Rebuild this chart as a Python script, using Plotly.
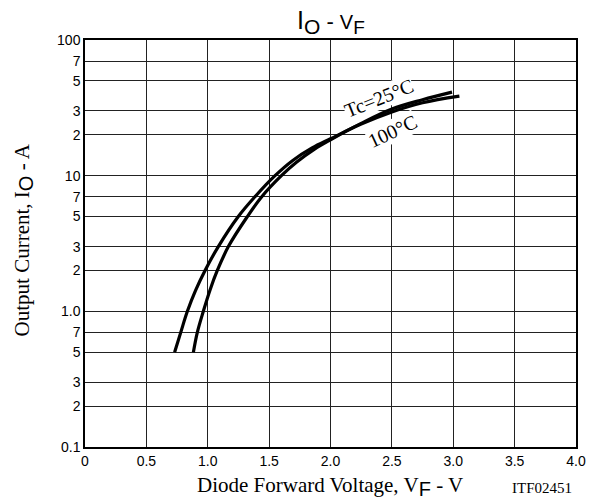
import plotly.graph_objects as go

# Data
vf_25 = [0.883, 0.915, 0.964, 1.02, 1.078, 1.168, 1.323, 1.44, 1.60, 1.725, 1.87, 2.0, 2.25, 2.5, 2.75, 2.99]
io_25 = [0.5, 0.7, 1.0, 1.45, 2.0, 3.0, 5.0, 7.0, 10.0, 12.6, 15.7, 18.4, 24.3, 31.0, 36.3, 41.3]

vf_100 = [0.73, 0.78, 0.834, 0.90, 0.978, 1.086, 1.249, 1.385, 1.548, 1.69, 1.85, 2.0, 2.25, 2.5, 2.75, 3.05]
io_100 = [0.5, 0.7, 1.0, 1.42, 2.0, 3.0, 5.0, 7.0, 10.0, 12.9, 16.0, 18.7, 24.0, 29.5, 34.5, 38.6]

y_tickvals = [0.1, 0.2, 0.3, 0.5, 0.7, 1, 2, 3, 5, 7, 10, 20, 30, 50, 70, 100]
y_ticktext = ["0.1", "2", "3", "5", "7", "1.0", "2", "3", "5", "7", "10", "2", "3", "5", "7", "100"]
x_tickvals = [0, 0.5, 1.0, 1.5, 2.0, 2.5, 3.0, 3.5, 4.0]
x_ticktext = ["0", "0.5", "1.0", "1.5", "2.0", "2.5", "3.0", "3.5", "4.0"]

SANS = "Liberation Sans, Arial, sans-serif"
SERIF = "Liberation Serif, Times New Roman, serif"

fig = go.Figure()
for xs, ys in [(vf_25, io_25), (vf_100, io_100)]:
    fig.add_trace(go.Scatter(x=xs, y=ys, mode="lines",
                             line=dict(color="black", width=3.2, shape="spline", smoothing=1.0),
                             showlegend=False, hoverinfo="skip"))

# page has an 8px body margin: figure sized so that it ends at the window edge
fig.update_layout(
    width=592, height=493,
    margin=dict(l=77, r=24, t=32, b=54),
    paper_bgcolor="white", plot_bgcolor="white",
    showlegend=False,
    xaxis=dict(range=[0, 4], tickvals=x_tickvals, ticktext=x_ticktext,
               showgrid=True, gridcolor="#222", gridwidth=1,
               showline=True, linecolor="black", linewidth=1.5, mirror=True,
               ticks="", zeroline=False,
               tickfont=dict(family=SANS, size=14, color="black")),
    yaxis=dict(type="log", range=[-1, 2], tickvals=y_tickvals, ticktext=y_ticktext,
               showgrid=True, gridcolor="#222", gridwidth=1,
               showline=True, linecolor="black", linewidth=1.5, mirror=True,
               ticks="", zeroline=False,
               tickfont=dict(family=SANS, size=14, color="black")),
)

SUBSTYLE = "font-family:Liberation Sans, Arial, sans-serif;font-size:20px"
annotations = [
    dict(text="<span style='font-size:25px'>I</span><sub><span style='font-size:21px'>O</span></sub>"
              " - <span style='font-size:20px'>V</span><sub><span style='font-size:19px'>F</span></sub>",
         xref="paper", yref="paper", x=0.5, y=1.045, xanchor="center", yanchor="middle",
         showarrow=False, font=dict(family=SANS, size=22, color="black")),
    dict(text="Diode Forward Voltage, V<sub><span style='%s'>F</span></sub> - V" % SUBSTYLE,
         xref="paper", yref="paper", x=0.499, y=-0.096, xanchor="center", yanchor="middle",
         showarrow=False, font=dict(family=SERIF, size=21, color="black")),
    dict(text="Output Current, I<sub><span style='%s'>O</span></sub> - A" % SUBSTYLE,
         xref="paper", yref="paper", x=-0.126, y=0.508, xanchor="center", yanchor="middle",
         textangle=-90, showarrow=False, font=dict(family=SERIF, size=21, color="black")),
    dict(text="ITF02451", xref="paper", yref="paper", x=0.931, y=-0.101,
         xanchor="center", yanchor="middle", showarrow=False,
         font=dict(family=SERIF, size=15, color="black")),
    dict(text="Tc=25°C", x=2.395, y=1.57, xref="x", yref="y", textangle=-22,
         showarrow=False, bgcolor="white", borderpad=0,
         font=dict(family=SERIF, size=20, color="black")),
    dict(text="100°C", x=2.509, y=1.326, xref="x", yref="y", textangle=-25,
         showarrow=False, bgcolor="white", borderpad=0,
         font=dict(family=SERIF, size=20, color="black")),
]
fig.update_layout(annotations=annotations)

fig.write_html("out.html")
